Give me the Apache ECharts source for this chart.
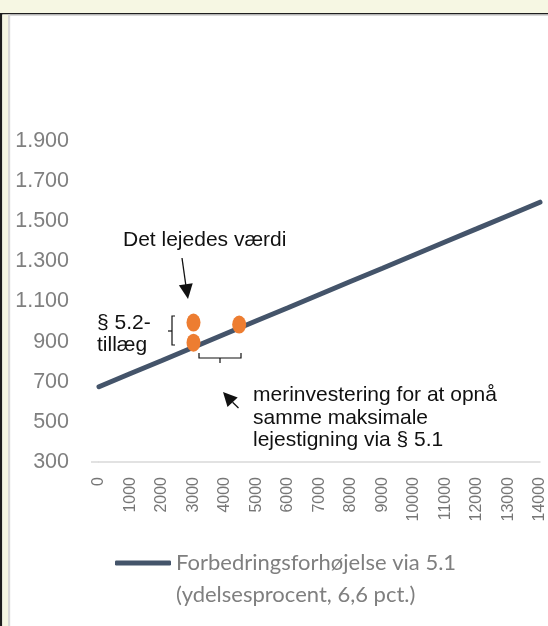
<!DOCTYPE html>
<html>
<head>
<meta charset="utf-8">
<script src="https://cdn.jsdelivr.net/npm/echarts@6/dist/echarts.min.js"></script>
<style>
html,body{margin:0;padding:0;background:#fff;}
#c{width:548px;height:626px;}
</style>
</head>
<body>
<div id="c"></div>
<script>
// Investment (kr.) on x axis
const xValues = [0,1000,2000,3000,4000,5000,6000,7000,8000,9000,10000,11000,12000,13000,14000];
// Forbedringsforhøjelse via 5.1
const lineValues = [675,741,806,872,938,1004,1069,1135,1201,1266,1332,1398,1463,1529,1595];
// Orange marker points [x, y]
const dotX = [3000, 3000, 4450];
const dotY = [995, 895, 985];
const yTicks = {min:300, max:1900, interval:200};
const seriesName = 'Forbedringsforhøjelse via 5.1\n(ydelsesprocent, 6,6 pct.)';

const chart = echarts.init(document.getElementById('c'), null, {renderer:'canvas'});
const fmtDa = v => String(v).replace(/\B(?=(\d{3})+(?!\d))/g, '.');
const annFont = '"Liberation Sans", Arial, sans-serif';
const black = '#111111';

chart.setOption({
  animation:false,
  backgroundColor:'#ffffff',
  grid:{left:99, right:5, top:141, bottom:164, containLabel:false},
  xAxis:{
    type:'value', min:0, max:14000, interval:1000,
    axisLine:{show:true, lineStyle:{color:'#D9D9D9', width:1.5}},
    axisTick:{show:false}, splitLine:{show:false},
    axisLabel:{rotate:90, margin:15, color:'#767676', fontSize:16,
      fontFamily:annFont, showMinLabel:true, showMaxLabel:true, hideOverlap:false,
      formatter: v => String(v)}
  },
  yAxis:{
    type:'value', min:yTicks.min, max:yTicks.max, interval:yTicks.interval,
    axisLine:{show:false}, axisTick:{show:false}, splitLine:{show:false},
    axisLabel:{margin:30, color:'#7F7F7F', fontSize:21.5, fontFamily:annFont, formatter:fmtDa}
  },
  legend:{
    show:true, left:115, top:515, padding:0,
    icon:'roundRect', itemWidth:56, itemHeight:5, itemGap:0,
    data:[seriesName],
    formatter: name => '\n' + name,
    textStyle:{color:'#7F7F7F', fontSize:22, fontFamily:'Lato, "Open Sans", sans-serif',
      lineHeight:32}
  },
  series:[
    {
      name:seriesName, type:'line',
      data:xValues.map((x,i)=>[x, lineValues[i]]),
      symbol:'none', clip:false,
      lineStyle:{color:'#44546A', width:5, cap:'round'},
      itemStyle:{color:'#44546A'}, z:2
    },
    {
      name:'dots', type:'scatter',
      data:dotX.map((x,i)=>[x, dotY[i]]),
      symbol:'circle', symbolSize:[14,18],
      itemStyle:{color:'#ED7D31', opacity:1}, z:3, clip:false
    }
  ],
  graphic:[
    // frame
    {type:'rect', shape:{x:0,y:0,width:548,height:13}, style:{fill:'#F6F7E3'}, z:100},
    {type:'rect', shape:{x:0,y:13,width:548,height:1.5}, style:{fill:'#1E1E1E'}, z:100},
    {type:'rect', shape:{x:8,y:14.5,width:540,height:1.5}, style:{fill:'#D9D9D9'}, z:100},
    {type:'rect', shape:{x:0,y:13,width:2.3,height:613}, style:{fill:'#1E1E1E'}, z:100},
    {type:'rect', shape:{x:2.3,y:14.5,width:5.7,height:612}, style:{fill:'#F6F7E3'}, z:100},
    {type:'rect', shape:{x:8,y:14.5,width:2.2,height:612}, style:{fill:'#D9D9D9'}, z:100},
    // axis line stub left of first category (as in reference)
    {type:'line', shape:{x1:91,y1:462,x2:99,y2:462}, style:{stroke:'#D9D9D9', lineWidth:1.5}, z:1},
    // annotations
    {type:'text', x:123, y:240, style:{text:'Det lejedes værdi', font:'21px '+annFont, fill:black, verticalAlign:'middle'}, z:50},
    {type:'line', shape:{x1:182,y1:258,x2:185.8,y2:285}, style:{stroke:black, lineWidth:1.3}, z:50},
    {type:'polygon', shape:{points:[[188,299],[192.7,283.2],[178.9,285.2]]}, style:{fill:black}, z:50},
    {type:'text', x:97, y:312, style:{text:'§ 5.2-\ntillæg', font:'21px '+annFont, fill:black, lineHeight:22, verticalAlign:'top'}, z:50},
    {type:'polyline', shape:{points:[[175,316],[172,316],[172,345],[175,345]]}, style:{stroke:black, lineWidth:1.2, fill:null}, z:50},
    {type:'line', shape:{x1:172,y1:331,x2:168,y2:331}, style:{stroke:black, lineWidth:1.2}, z:50},
    {type:'polyline', shape:{points:[[199,353],[199,358],[241,358],[241,353]]}, style:{stroke:black, lineWidth:1.2, fill:null}, z:50},
    {type:'line', shape:{x1:220,y1:358,x2:220,y2:363}, style:{stroke:black, lineWidth:1.2}, z:50},
    {type:'line', shape:{x1:238.5,y1:408,x2:232.6,y2:402.2}, style:{stroke:black, lineWidth:1.3}, z:50},
    {type:'polygon', shape:{points:[[223,392],[237.7,397.4],[227.5,407]]}, style:{fill:black}, z:50},
    {type:'text', x:253, y:384, style:{text:'merinvestering for at opnå\nsamme maksimale\nlejestigning via § 5.1', font:'21px '+annFont, fill:black, lineHeight:22.5, verticalAlign:'top'}, z:50}
  ]
});
</script>
</body>
</html>
